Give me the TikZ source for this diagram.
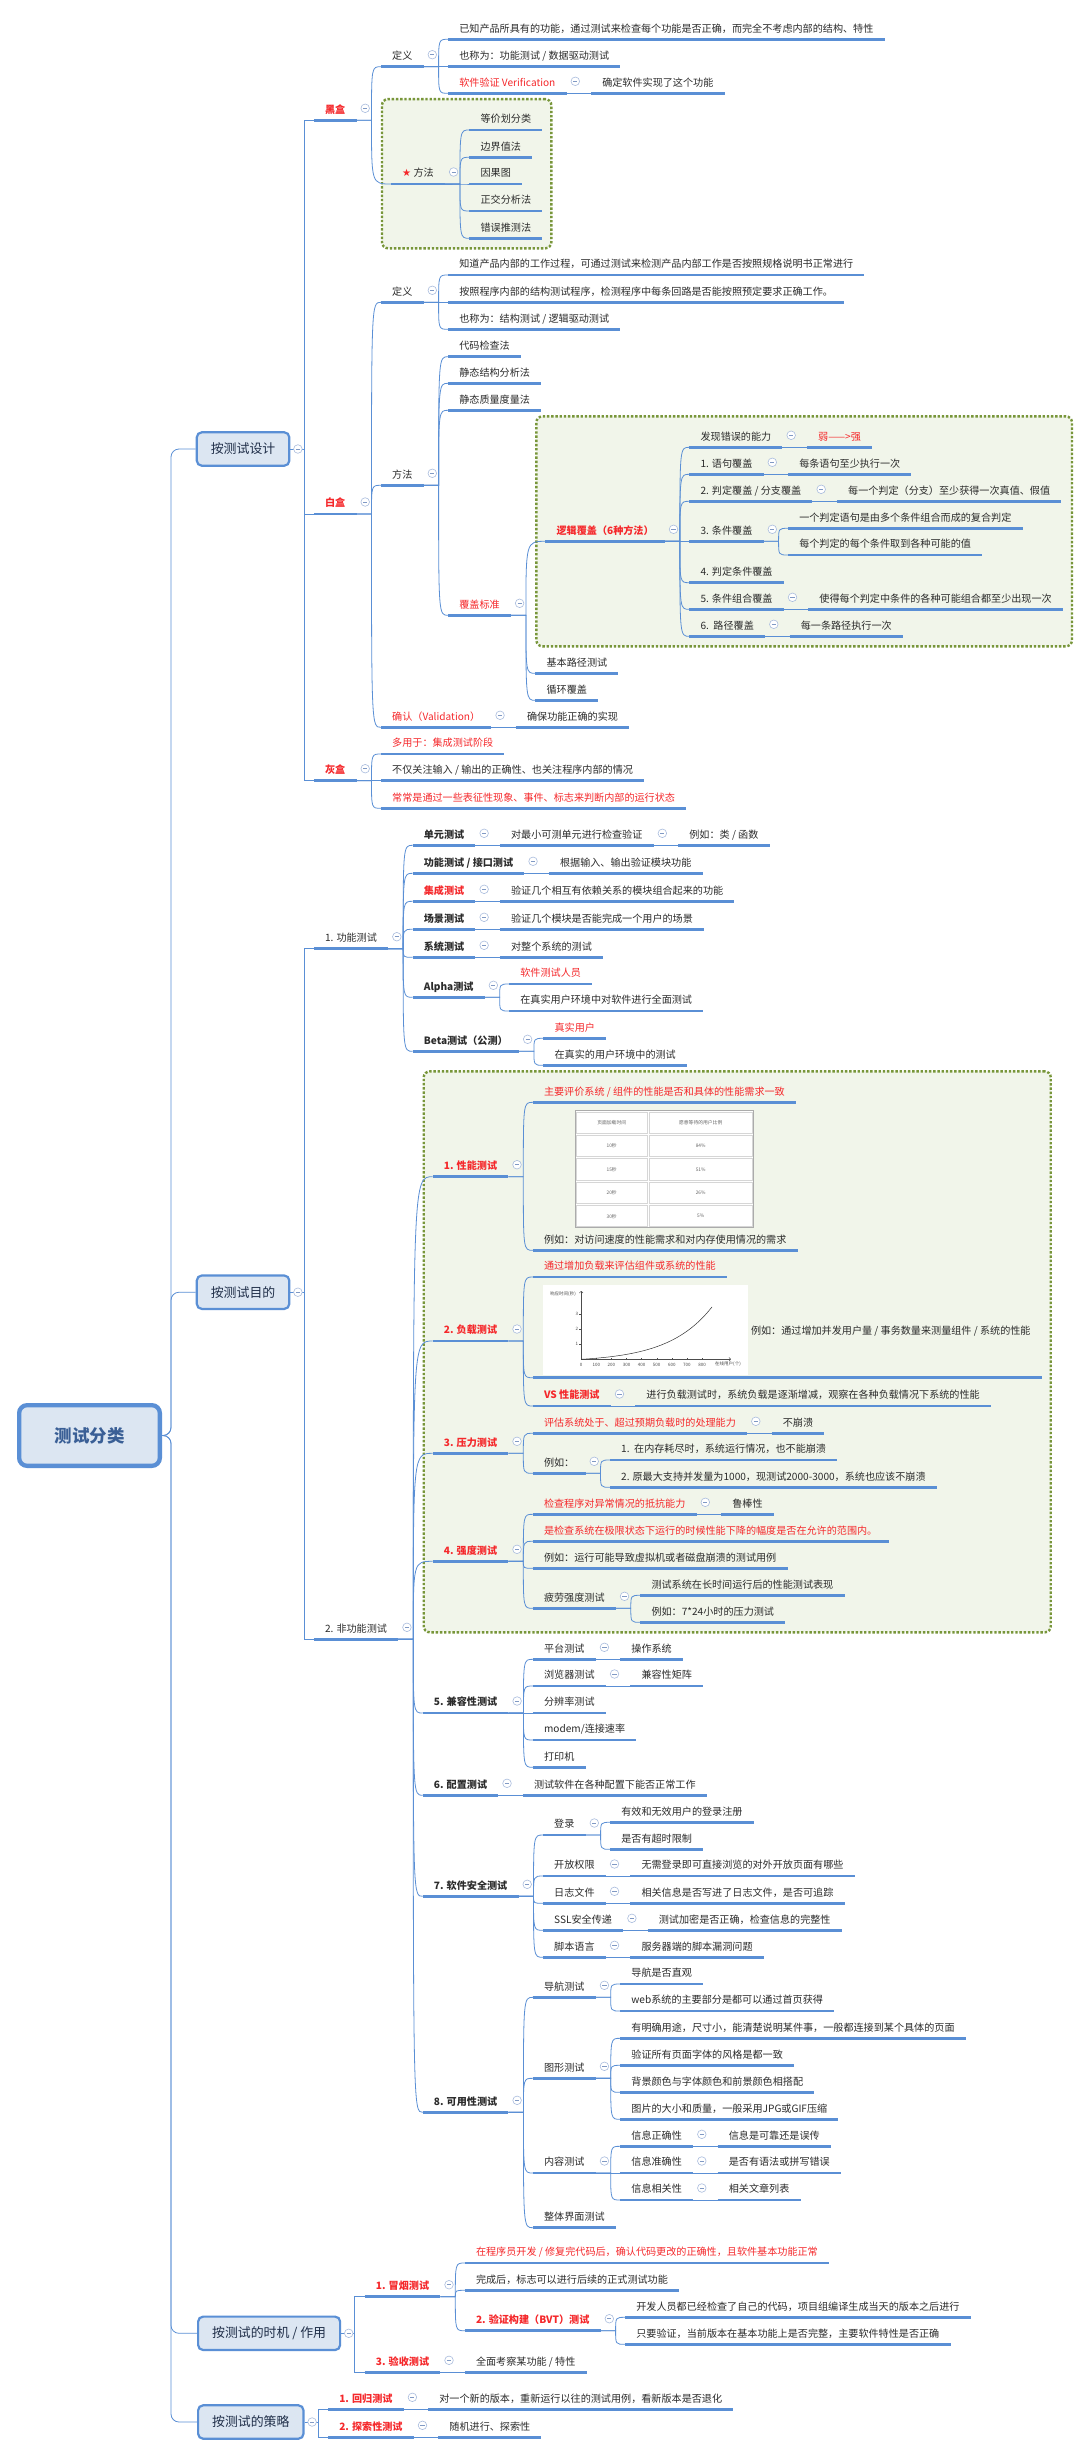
\documentclass[tikz,border=0pt]{standalone}
\usepackage{fontspec}
\setmainfont{Noto Sans CJK SC}
\newfontfamily\symf{DejaVu Sans}
\usetikzlibrary{positioning,fit,backgrounds}
\definecolor{ubl}{HTML}{5A8FD5}
\definecolor{boxfill}{HTML}{DCE6F2}
\definecolor{rootc}{HTML}{3A5F96}
\definecolor{navy}{HTML}{1F2E48}
\definecolor{txt}{HTML}{2B2B2B}
\definecolor{red1}{HTML}{F5282B}
\definecolor{olive}{HTML}{78963A}
\definecolor{bgreen}{HTML}{F1F5EA}
\definecolor{mkc}{HTML}{A9BCDD}
\definecolor{mkc2}{HTML}{8099C4}
\definecolor{cellc}{HTML}{D6D6D6}
\tikzset{
  uline/.style={draw=ubl, line width=2.6pt},
  nd/.style={anchor=south west, inner xsep=11pt, inner ysep=5pt, text height=8.5pt, text depth=2pt,
    font=\fontsize{10.1}{12}\selectfont, text=txt,
    append after command={(\tikzlastnode.south west) edge[uline] (\tikzlastnode.south east)}},
  kid/.style={nd, xshift=24.5pt},
  kidb/.style={nd, xshift=34.5pt},
  brn/.style={nd, xshift=23.5pt},
  redt/.style={text=red1},
  bft/.style={font=\fontsize{10.1}{12}\selectfont\bfseries},
  link/.style={draw=ubl, line width=0.8pt},
  minus/.style={circle, draw=mkc, fill=white, line width=0.6pt, minimum size=8.6pt, inner sep=0pt,
    path picture={\draw[mkc2, line width=0.7pt] ([xshift=2.2pt]path picture bounding box.west) -- ([xshift=-2.2pt]path picture bounding box.east);}},
  mbox/.style={anchor=west, draw=ubl, fill=boxfill, line width=2.2pt, rounded corners=5pt, inner xsep=14pt,
    minimum height=33.4pt, font=\fontsize{12.9}{15}\selectfont, text=navy},
  rootbox/.style={draw=ubl, fill=boxfill, line width=4.3pt, rounded corners=8pt, minimum width=140.7pt,
    minimum height=60.7pt, font=\fontsize{17.5}{20}\selectfont\bfseries, text=rootc},
  bnd/.style={draw=olive, fill=bgreen, line width=2.4pt, dash pattern=on 2.4pt off 1.8pt, rounded corners=6pt,
    inner xsep=9pt, inner ysep=10pt},
  chartlbl/.style={font=\fontsize{4.5}{5}\selectfont, text=black!70, inner sep=1pt},
  tbl/.style={font=\fontsize{4.8}{5}\selectfont, text=black!60, inner sep=0pt}
}
\newcommand\elbows[2]{%
  \foreach \c in {#2} \draw[link] (#1.east) -- ++(13.5,0) |- (\c.south west);
  \node[minus] at ([xshift=7.5pt]#1.east) {};
}
\newcommand\kids[2]{%
  \node[minus] at ([shift={(8.7,-12)}]#1.south east) {};
  \path (#1.south east) ++(15,0) coordinate (fk);
  \foreach \c in {#2} \draw[link] (#1.south east) -- (fk) .. controls (fk |- \c.south west) .. (\c.south west);
}
\begin{document}
\begin{tikzpicture}[x=1pt,y=-1pt]
\useasboundingbox (0,0) rectangle (1089,2457);
\begin{scope}[on background layer]
\fill[white] (0,0) rectangle (1089,2457);
\end{scope}

\node[rootbox] (root) at (89.5,1435.5) {测试分类};
\node[mbox] (sj) at (195.7,449) {按测试设计};
\node[mbox] (md) at (195.7,1292.2) {按测试目的};
\node[mbox] (sz) at (197,2333.3) {按测试的时机 / 作用};
\node[mbox] (cl) at (197,2422) {按测试的策略};
\foreach \m in {sj,md,sz,cl} \draw[link, rounded corners=8pt] (root.east) -- ++(9,0) |- (\m.west);

% 按测试设计
\node[brn,redt,bft] (hei) at (sj.east |- 0,120.3) {黑盒};
\node[kid] (hdy) at (hei.south east |- 0,66.7) {定义};
\node[kid] (hdy1) at (hdy.south east |- 0,39.3) {已知产品所具有的功能，通过测试来检查每个功能是否正确，而完全不考虑内部的结构、特性};
\node[kid] (hdy2) at (hdy.south east |- 0,66.7) {也称为：功能测试 / 数据驱动测试};
\node[kid,redt] (hdy3) at (hdy.south east |- 0,93.3) {软件验证 Verification};
\node[kid] (hdy31) at (hdy3.south east |- 0,93.3) {确定软件实现了这个功能};
\node[kidb] (hff) at (hei.south east |- 0,184) {{\symf\color{red1}★} 方法};
\node[kid] (hff1) at (hff.south east |- 0,130) {等价划分类};
\node[kid] (hff2) at (hff.south east |- 0,157.3) {边界值法};
\node[kid] (hff3) at (hff.south east |- 0,184) {因果图};
\node[kid] (hff4) at (hff.south east |- 0,211) {正交分析法};
\node[kid] (hff5) at (hff.south east |- 0,238.3) {错误推测法};

\node[brn,redt,bft] (bai) at (sj.east |- 0,514) {白盒};
\node[kid] (bdy) at (bai.south east |- 0,302.3) {定义};
\node[kid] (bdy1) at (bdy.south east |- 0,275) {知道产品内部的工作过程，可通过测试来检测产品内部工作是否按照规格说明书正常进行};
\node[kid] (bdy2) at (bdy.south east |- 0,302.3) {按照程序内部的结构测试程序，检测程序中每条回路是否能按照预定要求正确工作。};
\node[kid] (bdy3) at (bdy.south east |- 0,329.3) {也称为：结构测试 / 逻辑驱动测试};
\node[kid] (bff) at (bai.south east |- 0,485.3) {方法};
\node[kid] (bff1) at (bff.south east |- 0,356.7) {代码检查法};
\node[kid] (bff2) at (bff.south east |- 0,383.3) {静态结构分析法};
\node[kid] (bff3) at (bff.south east |- 0,410.3) {静态质量度量法};
\node[kid,redt] (bfg) at (bff.south east |- 0,615.3) {覆盖标准};
\node[kidb,redt,bft] (ljfg) at (bfg.south east |- 0,541.3) {逻辑覆盖（6种方法）};
\node[kid] (lj0) at (ljfg.south east |- 0,447.3) {发现错误的能力};
\node[kid,redt] (lj01) at (lj0.south east |- 0,447.3) {弱——>强};
\node[kid] (lj1) at (ljfg.south east |- 0,474.3) {1. 语句覆盖};
\node[kid] (lj11) at (lj1.south east |- 0,474.3) {每条语句至少执行一次};
\node[kid] (lj2) at (ljfg.south east |- 0,501.3) {2. 判定覆盖 / 分支覆盖};
\node[kid] (lj21) at (lj2.south east |- 0,501.3) {每一个判定（分支）至少获得一次真值、假值};
\node[kid] (lj3) at (ljfg.south east |- 0,541.3) {3. 条件覆盖};
\node[kid] (lj31) at (lj3.south east |- 0,528.3) {一个判定语句是由多个条件组合而成的复合判定};
\node[kid] (lj32) at (lj3.south east |- 0,555) {每个判定的每个条件取到各种可能的值};
\node[kid] (lj4) at (ljfg.south east |- 0,582.7) {4. 判定条件覆盖};
\node[kid] (lj5) at (ljfg.south east |- 0,609.3) {5. 条件组合覆盖};
\node[kid] (lj51) at (lj5.south east |- 0,609.3) {使得每个判定中条件的各种可能组合都至少出现一次};
\node[kid] (lj6) at (ljfg.south east |- 0,636.3) {6.\ \ 路径覆盖};
\node[kid] (lj61) at (lj6.south east |- 0,636.3) {每一条路径执行一次};
\node[kid] (bfg2) at (bfg.south east |- 0,673.3) {基本路径测试};
\node[kid] (bfg3) at (bfg.south east |- 0,700.3) {循环覆盖};
\node[kid,redt] (bqr) at (bai.south east |- 0,727.3) {确认（Validation）};
\node[kid] (bqr1) at (bqr.south east |- 0,727.3) {确保功能正确的实现};

\node[brn,redt,bft] (hui) at (sj.east |- 0,780.7) {灰盒};
\node[kid,redt] (hui1) at (hui.south east |- 0,754) {多用于：集成测试阶段};
\node[kid] (hui2) at (hui.south east |- 0,780.7) {不仅关注输入 / 输出的正确性、也关注程序内部的情况};
\node[kid,redt] (hui3) at (hui.south east |- 0,808.3) {常常是通过一些表征性现象、事件、标志来判断内部的运行状态};

% 按测试目的
\node[brn] (gn) at (md.east |- 0,948.7) {1. 功能测试};
\node[kid,bft] (dy) at (gn.south east |- 0,845.3) {单元测试};
\node[kid] (dy1) at (dy.south east |- 0,845.3) {对最小可测单元进行检查验证};
\node[kid] (dy11) at (dy1.south east |- 0,845.3) {例如：类 / 函数};
\node[kid,bft] (jk) at (gn.south east |- 0,873.3) {功能测试 / 接口测试};
\node[kid] (jk1) at (jk.south east |- 0,873.3) {根据输入、输出验证模块功能};
\node[kid,bft,redt] (jc) at (gn.south east |- 0,901.3) {集成测试};
\node[kid] (jc1) at (jc.south east |- 0,901.3) {验证几个相互有依赖关系的模块组合起来的功能};
\node[kid,bft] (cj) at (gn.south east |- 0,929.3) {场景测试};
\node[kid] (cj1) at (cj.south east |- 0,929.3) {验证几个模块是否能完成一个用户的场景};
\node[kid,bft] (xt) at (gn.south east |- 0,957.3) {系统测试};
\node[kid] (xt1) at (xt.south east |- 0,957.3) {对整个系统的测试};
\node[kid,bft] (al) at (gn.south east |- 0,997.3) {Alpha测试};
\node[kid,redt] (al1) at (al.south east |- 0,984) {软件测试人员};
\node[kid] (al2) at (al.south east |- 0,1011) {在真实用户环境中对软件进行全面测试};
\node[kid,bft] (bt) at (gn.south east |- 0,1051.3) {Beta测试（公测）};
\node[kid,redt] (bt1) at (bt.south east |- 0,1038.3) {真实用户};
\node[kid] (bt2) at (bt.south east |- 0,1065.3) {在真实的用户环境中的测试};

\node[brn] (fgn) at (md.east |- 0,1639.3) {2. 非功能测试};
\node[kidb,redt,bft] (xn) at (fgn.south east |- 0,1176.7) {1. 性能测试};
\node[kid,redt] (xn1) at (xn.south east |- 0,1102.3) {主要评价系统 / 组件的性能是否和具体的性能需求一致};
\node[kid] (xn2) at (xn.south east |- 0,1250.3) {例如：对访问速度的性能需求和对内存使用情况的需求};
\node[kidb,redt,bft] (fz) at (fgn.south east |- 0,1341) {2. 负载测试};
\node[kid,redt] (fz1) at (fz.south east |- 0,1277) {通过增加负载来评估组件或系统的性能};
\node[kid,minimum height=92pt] (fz2) at (fz.south east |- 0,1377.7) {\hspace*{207pt}例如：通过增加并发用户量 / 事务数量来测量组件 / 系统的性能};
\node[kid,redt,bft] (fz3) at (fz.south east |- 0,1406) {VS 性能测试};
\node[kid] (fz31) at (fz3.south east |- 0,1406) {进行负载测试时，系统负载是逐渐增减，观察在各种负载情况下系统的性能};
\node[kidb,redt,bft] (yl) at (fgn.south east |- 0,1453.3) {3. 压力测试};
\node[kid,redt] (yl1) at (yl.south east |- 0,1433.3) {评估系统处于、超过预期负载时的处理能力};
\node[kid] (yl11) at (yl1.south east |- 0,1433.3) {不崩溃};
\node[kid] (yl2) at (yl.south east |- 0,1473.3) {例如：};
\node[kid] (yl21) at (yl2.south east |- 0,1460) {1.\ \ 在内存耗尽时，系统运行情况，也不能崩溃};
\node[kid] (yl22) at (yl2.south east |- 0,1487.3) {2. 原最大支持并发量为1000，现测试2000-3000，系统也应该不崩溃};
\node[kidb,redt,bft] (qd) at (fgn.south east |- 0,1561.3) {4. 强度测试};
\node[kid,redt] (qd1) at (qd.south east |- 0,1514.3) {检查程序对异常情况的抵抗能力};
\node[kid] (qd11) at (qd1.south east |- 0,1514.3) {鲁棒性};
\node[kid,redt] (qd2) at (qd.south east |- 0,1541.3) {是检查系统在极限状态下运行的时候性能下降的幅度是否在允许的范围内。};
\node[kid] (qd3) at (qd.south east |- 0,1568.3) {例如：运行可能导致虚拟机或者磁盘崩溃的测试用例};
\node[kid] (qd4) at (qd.south east |- 0,1608.3) {疲劳强度测试};
\node[kid] (qd41) at (qd4.south east |- 0,1595.3) {测试系统在长时间运行后的性能测试表现};
\node[kid] (qd42) at (qd4.south east |- 0,1622.3) {例如：7*24小时的压力测试};
\node[kid,bft] (jr) at (fgn.south east |- 0,1713) {5. 兼容性测试};
\node[kid] (jr1) at (jr.south east |- 0,1659.3) {平台测试};
\node[kid] (jr11) at (jr1.south east |- 0,1659.3) {操作系统};
\node[kid] (jr2) at (jr.south east |- 0,1686) {浏览器测试};
\node[kid] (jr21) at (jr2.south east |- 0,1686) {兼容性矩阵};
\node[kid] (jr3) at (jr.south east |- 0,1713) {分辨率测试};
\node[kid] (jr4) at (jr.south east |- 0,1740) {modem/连接速率};
\node[kid] (jr5) at (jr.south east |- 0,1767.3) {打印机};
\node[kid,bft] (pz) at (fgn.south east |- 0,1795.3) {6. 配置测试};
\node[kid] (pz1) at (pz.south east |- 0,1795.3) {测试软件在各种配置下能否正常工作};
\node[kid,bft] (aq) at (fgn.south east |- 0,1896.3) {7. 软件安全测试};
\node[kid] (aq1) at (aq.south east |- 0,1835) {登录};
\node[kid] (aq11) at (aq1.south east |- 0,1822.3) {有效和无效用户的登录注册};
\node[kid] (aq12) at (aq1.south east |- 0,1849.3) {是否有超时限制};
\node[kid] (aq2) at (aq.south east |- 0,1876) {开放权限};
\node[kid] (aq21) at (aq2.south east |- 0,1876) {无需登录即可直接浏览的对外开放页面有哪些};
\node[kid] (aq3) at (aq.south east |- 0,1903.3) {日志文件};
\node[kid] (aq31) at (aq3.south east |- 0,1903.3) {相关信息是否写进了日志文件，是否可追踪};
\node[kid] (aq4) at (aq.south east |- 0,1930.3) {SSL安全传递};
\node[kid] (aq41) at (aq4.south east |- 0,1930.3) {测试加密是否正确，检查信息的完整性};
\node[kid] (aq5) at (aq.south east |- 0,1957.3) {脚本语言};
\node[kid] (aq51) at (aq5.south east |- 0,1957.3) {服务器端的脚本漏洞问题};
\node[kid,bft] (ky) at (fgn.south east |- 0,2112.3) {8. 可用性测试};
\node[kid] (ky1) at (ky.south east |- 0,1997.3) {导航测试};
\node[kid] (ky11) at (ky1.south east |- 0,1984) {导航是否直观};
\node[kid] (ky12) at (ky1.south east |- 0,2011) {web系统的主要部分是都可以通过首页获得};
\node[kid] (ky2) at (ky.south east |- 0,2078.3) {图形测试};
\node[kid] (ky21) at (ky2.south east |- 0,2038.3) {有明确用途，尺寸小，能清楚说明某件事，一般都连接到某个具体的页面};
\node[kid] (ky22) at (ky2.south east |- 0,2065.3) {验证所有页面字体的风格是都一致};
\node[kid] (ky23) at (ky2.south east |- 0,2092.3) {背景颜色与字体颜色和前景颜色相搭配};
\node[kid] (ky24) at (ky2.south east |- 0,2119.3) {图片的大小和质量，一般采用JPG或GIF压缩};
\node[kid] (ky3) at (ky.south east |- 0,2173) {内容测试};
\node[kid] (ky31) at (ky3.south east |- 0,2146.3) {信息正确性};
\node[kid] (ky311) at (ky31.south east |- 0,2146.3) {信息是可靠还是误传};
\node[kid] (ky32) at (ky3.south east |- 0,2173) {信息准确性};
\node[kid] (ky321) at (ky32.south east |- 0,2173) {是否有语法或拼写错误};
\node[kid] (ky33) at (ky3.south east |- 0,2200) {信息相关性};
\node[kid] (ky331) at (ky33.south east |- 0,2200) {相关文章列表};
\node[kid] (ky4) at (ky.south east |- 0,2227.7) {整体界面测试};

% 按测试的时机 / 作用, 按测试的策略
\node[brn,redt,bft] (my) at (sz.east |- 0,2296.7) {1. 冒烟测试};
\node[kid,redt] (my1) at (my.south east |- 0,2263) {在程序员开发 / 修复完代码后，确认代码更改的正确性，且软件基本功能正常};
\node[kid] (my2) at (my.south east |- 0,2290.3) {完成后，标志可以进行后续的正式测试功能};
\node[kid,redt,bft] (bvt) at (my.south east |- 0,2330.7) {2. 验证构建（BVT）测试};
\node[kid] (bvt1) at (bvt.south east |- 0,2317.3) {开发人员都已经检查了自己的代码，项目组编译生成当天的版本之后进行};
\node[kid] (bvt2) at (bvt.south east |- 0,2344.3) {只要验证，当前版本在基本功能上是否完整，主要软件特性是否正确};
\node[brn,redt,bft] (ys) at (sz.east |- 0,2372.3) {3. 验收测试};
\node[kid] (ys1) at (ys.south east |- 0,2372.3) {全面考察某功能 / 特性};
\node[brn,redt,bft] (hg) at (cl.east |- 0,2409.3) {1. 回归测试};
\node[kid] (hg1) at (hg.south east |- 0,2409.3) {对一个新的版本，重新运行以往的测试用例，看新版本是否退化};
\node[brn,redt,bft] (ts) at (cl.east |- 0,2437.3) {2. 探索性测试};
\node[kid] (ts1) at (ts.south east |- 0,2437.3) {随机进行、探索性};

\elbows{sj}{hei,bai,hui}
\elbows{md}{gn,fgn}
\elbows{sz}{my,ys}
\elbows{cl}{hg,ts}
\kids{hei}{hdy,hff}
\kids{hdy}{hdy1,hdy2,hdy3}
\kids{hdy3}{hdy31}
\kids{hff}{hff1,hff2,hff3,hff4,hff5}
\kids{bai}{bdy,bff,bqr}
\kids{bdy}{bdy1,bdy2,bdy3}
\kids{bff}{bff1,bff2,bff3,bfg}
\kids{bfg}{ljfg,bfg2,bfg3}
\kids{ljfg}{lj0,lj1,lj2,lj3,lj4,lj5,lj6}
\kids{lj0}{lj01}
\kids{lj1}{lj11}
\kids{lj2}{lj21}
\kids{lj3}{lj31,lj32}
\kids{lj5}{lj51}
\kids{lj6}{lj61}
\kids{bqr}{bqr1}
\kids{hui}{hui1,hui2,hui3}
\kids{gn}{dy,jk,jc,cj,xt,al,bt}
\kids{dy}{dy1}
\kids{dy1}{dy11}
\kids{jk}{jk1}
\kids{jc}{jc1}
\kids{cj}{cj1}
\kids{xt}{xt1}
\kids{al}{al1,al2}
\kids{bt}{bt1,bt2}
\kids{fgn}{xn,fz,yl,qd,jr,pz,aq,ky}
\kids{xn}{xn1,xn2}
\kids{fz}{fz1,fz2,fz3}
\kids{fz3}{fz31}
\kids{yl}{yl1,yl2}
\kids{yl1}{yl11}
\kids{yl2}{yl21,yl22}
\kids{qd}{qd1,qd2,qd3,qd4}
\kids{qd1}{qd11}
\kids{qd4}{qd41,qd42}
\kids{jr}{jr1,jr2,jr3,jr4,jr5}
\kids{jr1}{jr11}
\kids{jr2}{jr21}
\kids{pz}{pz1}
\kids{aq}{aq1,aq2,aq3,aq4,aq5}
\kids{aq1}{aq11,aq12}
\kids{aq2}{aq21}
\kids{aq3}{aq31}
\kids{aq4}{aq41}
\kids{aq5}{aq51}
\kids{ky}{ky1,ky2,ky3,ky4}
\kids{ky1}{ky11,ky12}
\kids{ky2}{ky21,ky22,ky23,ky24}
\kids{ky3}{ky31,ky32,ky33}
\kids{ky31}{ky311}
\kids{ky32}{ky321}
\kids{ky33}{ky331}
\kids{my}{my1,my2,bvt}
\kids{bvt}{bvt1,bvt2}
\kids{ys}{ys1}
\kids{hg}{hg1}
\kids{ts}{ts1}

% table
\fill[white] (575,1110.7) rectangle (753.3,1227.7);
\foreach \a/\b [count=\r from 0] in {页面加载时间/愿意等待的用户比例,10秒/84\%,15秒/51\%,20秒/26\%,30秒/5\%} {
  \draw[cellc, line width=0.7pt] (576.3,{1112+23.4*\r}) rectangle (647.2,{1133.2+23.4*\r});
  \draw[cellc, line width=0.7pt] (649.4,{1112+23.4*\r}) rectangle (752,{1133.2+23.4*\r});
  \node[tbl] at (611.7,{1122.6+23.4*\r}) {\a};
  \node[tbl] at (700.7,{1122.6+23.4*\r}) {\b};
}
\draw[cellc!80!black, line width=0.6pt] (575,1110.7) rectangle (753.3,1227.7);

% chart
\fill[white] (543.4,1285) rectangle (748,1375);
\draw[->, black!70, line width=0.6pt] (581.2,1359.3) -- (581.2,1291);
\draw[->, black!70, line width=0.6pt] (581.2,1359.3) -- (731,1359.3);
\node[chartlbl] at (563,1294) {响应时间(秒)};
\foreach \v in {1,2,3} \draw[black!70, line width=0.4pt] (581.2,{1359.3-15.1*\v}) -- ++(-2,0) node[chartlbl, left] {\v};
\foreach \v [count=\i from 0] in {0,100,...,800} {
  \draw[black!70, line width=0.4pt] ({581.2+15.1*\i},1359.3) -- ++(0,-1.5);
  \node[chartlbl] at ({581.2+15.1*\i},1364.5) {\v};
}
\node[chartlbl] at (728,1364.5) {在线用户(个)};
\draw[black!80, line width=0.5pt, domain=0:8.66, smooth, variable=\t, samples=30] plot ({581.2+15.1*\t}, {1359.3-15*0.177*(exp(0.35*\t)-1)});

\begin{scope}[on background layer]
\node[bnd, fit=(hff)(hff1)(hff2)(hff3)(hff4)(hff5)] (bx1) {};
\node[bnd, fit=(ljfg)(lj0)(lj01)(lj1)(lj11)(lj2)(lj21)(lj3)(lj31)(lj32)(lj4)(lj5)(lj51)(lj6)(lj61)] (bx2) {};
\node[bnd, fit=(xn)(xn1)(xn2)(fz)(fz1)(fz2)(fz3)(fz31)(yl)(yl1)(yl11)(yl2)(yl21)(yl22)(qd)(qd1)(qd11)(qd2)(qd3)(qd4)(qd41)(qd42)] (bx3) {};
\end{scope}
\end{tikzpicture}
\end{document}
